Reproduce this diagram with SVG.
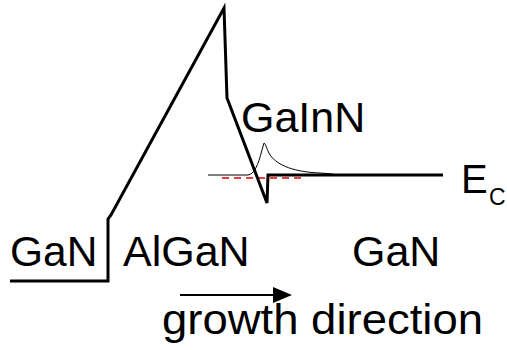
<svg xmlns="http://www.w3.org/2000/svg" width="507" height="350" viewBox="0 0 507 350">
<style>
text{font-family:"Liberation Sans",Arial,sans-serif;fill:#000}
.band{fill:none;stroke:#000;stroke-width:3;stroke-linejoin:miter}
.thin{fill:none;stroke:#000;stroke-width:1}
.fermi{fill:none;stroke:#e00000;stroke-width:1.4;stroke-dasharray:7,5}
</style>
<rect width="507" height="350" fill="#fff"/>
<g id="connectors">
<path class="thin" d="M208,175 L248,175 C254,174 258,166 262,150 L264,143 C266,144 267,150 270,155 C278,166 295,172 320,173 L333,174"/>
<path class="fermi" d="M222,178 L304,178"/>
<path class="band" d="M10,281 L108,281 L108,219 L111,215 L224,8 L227,98 L267,203 L268,175 L443,175"/>
<line x1="180" y1="295" x2="278" y2="295" stroke="#000" stroke-width="2"/>
<polygon points="273,287 292,295 273,303" fill="#000"/>
</g>
<g id="label-gainn"><text x="241" y="132" font-size="43">GaInN</text></g>
<g id="label-gan-left"><text x="10" y="266" font-size="42.5">GaN</text></g>
<g id="label-algan"><text x="123" y="266" font-size="43">AlGaN</text></g>
<g id="label-gan-right"><text x="352" y="266" font-size="43">GaN</text></g>
<g id="label-ec"><text x="461" y="193" font-size="40">E</text><text x="489" y="205" font-size="23">C</text></g>
<g id="label-growth"><text x="162" y="334" font-size="43" textLength="321" lengthAdjust="spacingAndGlyphs">growth direction</text></g>
</svg>
